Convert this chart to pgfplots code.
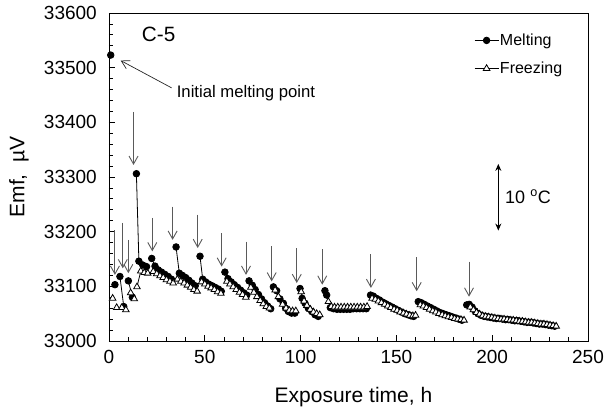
\documentclass[border=0pt]{standalone}
\usepackage{pgfplots}
\pgfplotsset{compat=1.18}
\usepackage{fontspec}
\setmainfont{Liberation Sans}
\usetikzlibrary{arrows.meta}
\definecolor{arrgray}{HTML}{5A5A5A}
\begin{document}
\begin{tikzpicture}
\begin{axis}[
  scale only axis, width=479pt, height=328pt,
  xmin=0, xmax=250, ymin=33000, ymax=33600,
  xtick={0,50,...,250}, ytick={33000,33100,...,33600},
  scaled y ticks=false, scaled x ticks=false,
  minor x tick num=4, minor y tick num=4,
  xtick pos=bottom, ytick pos=left, tick align=inside,
  major tick length=6pt, minor tick length=3.5pt,
  every tick/.style={black, line width=0.8pt},
  axis line style={line width=0.9pt},
  /pgf/number format/assume math mode=true,
  /pgf/number format/set thousands separator={},
  /pgf/number format/fixed,
  tick label style={font=\fontsize{19}{21}\selectfont, inner sep=0pt},
  xticklabel style={anchor=north, yshift=-9pt},
  yticklabel style={anchor=east, xshift=-12pt},
  xlabel={Exposure time, h}, ylabel={Emf,\ \ µV},
  every axis x label/.style={at={(axis description cs:0.5,0)}, anchor=center, yshift=-56pt, xshift=5pt, font=\fontsize{21}{24}\selectfont},
  every axis y label/.style={at={(axis description cs:0,0.5)}, xshift=-90pt, anchor=center, rotate=90, font=\fontsize{21}{24}\selectfont},
  unbounded coords=jump,
  legend style={at={(axis description cs:0.762,0.94)}, anchor=north west, draw=none, fill=none,
    font=\fontsize{16}{18}\selectfont, row sep=13pt, inner sep=0pt,
    nodes={inner sep=1pt}},
  legend cell align=left,
  legend image code/.code={\draw[mark repeat=2,mark phase=2,#1] plot coordinates {(0pt,0pt) (12pt,0pt) (24pt,0pt)};},
]
\addplot[black, line width=0.8pt, mark=*, mark size=3.3pt, mark options={fill=black, solid}] table[x=x,y=y] {
x y
0.9 33523
nan nan
3.1 33103
nan nan
5.7 33118
7.7 33063
nan nan
10.1 33110
12.2 33080
nan nan
14.3 33306
15.6 33146
17.6 33139
19.6 33136
nan nan
22.3 33151
24.0 33137
25.7 33130
27.4 33126
29.1 33122
30.9 33118
32.6 33113
nan nan
35.0 33172
36.7 33124
38.3 33120
40.0 33116
41.7 33111
43.3 33106
45.0 33101
nan nan
47.5 33155
48.9 33113
50.5 33108
52.1 33104
53.8 33101
55.4 33098
57.1 33095
58.6 33091
nan nan
60.5 33126
62.1 33114
63.8 33108
65.4 33103
67.1 33098
68.7 33093
70.4 33088
71.9 33084
nan nan
73.1 33110
74.8 33102
76.3 33094
78.0 33085
79.6 33077
81.2 33070
82.8 33064
84.4 33059
nan nan
85.8 33099
87.5 33092
89.2 33077
91.0 33069
92.2 33060
93.6 33054
95.3 33051
97.0 33051
nan nan
99.7 33096
100.8 33078
102.3 33069
104.0 33060
105.8 33054
107.5 33048
109.2 33045
nan nan
112.7 33092
113.6 33084
115.5 33061
117.2 33059
119.0 33058
120.7 33058
122.4 33058
124.1 33058
125.8 33058
127.5 33059
129.2 33059
130.9 33059
132.6 33059
134.3 33059
nan nan
136.5 33084
138.0 33082
139.6 33078
141.2 33075
142.9 33071
144.5 33068
146.1 33065
147.8 33062
149.4 33059
151.0 33056
152.7 33053
154.3 33050
156.0 33048
157.6 33046
159.0 33045
nan nan
161.4 33072
163.0 33070
164.6 33067
166.2 33064
167.9 33061
169.5 33058
171.1 33055
172.8 33052
174.4 33050
176.0 33048
177.7 33046
179.3 33044
181.0 33042
182.6 33040
184.2 33038
nan nan
186.7 33066
188.0 33067
189.5 33062
191.0 33055
192.6 33050
194.2 33047
195.8 33045
197.4 33044
199.0 33043
200.6 33042
202.2 33041
203.8 33041
205.4 33040
207.0 33039
208.6 33039
210.2 33038
211.8 33037
213.4 33037
215.0 33036
216.6 33035
218.2 33034
219.8 33034
221.4 33033
223.0 33032
224.6 33031
226.2 33031
227.8 33030
229.4 33029
231.0 33028
232.6 33027
};
\addlegendentry{Melting}
\addplot[black, line width=0.8pt, mark=triangle*, mark size=3.8pt, mark options={fill=white, solid}] table[x=x,y=y] {
x y
1.9 33078
nan nan
4.0 33061
nan nan
6.7 33061
8.8 33057
nan nan
11.3 33088
13.2 33077
nan nan
14.6 33099
16.6 33128
18.4 33125
20.2 33124
nan nan
23.1 33127
24.9 33123
26.6 33119
28.3 33116
30.0 33112
31.8 33109
33.5 33106
nan nan
35.7 33113
37.5 33109
39.2 33106
40.9 33102
42.6 33098
44.3 33094
46.0 33091
nan nan
48.3 33108
50.0 33104
51.7 33100
53.3 33097
55.0 33094
56.7 33090
58.4 33087
nan nan
61.5 33109
63.1 33104
64.8 33099
66.4 33094
68.1 33089
69.7 33085
71.4 33080
nan nan
74.0 33098
75.6 33089
77.2 33081
78.9 33074
80.5 33068
82.1 33063
83.7 33060
nan nan
86.7 33093
88.4 33081
90.6 33067
92.4 33060
94.1 33056
95.8 33055
97.5 33055
nan nan
100.3 33090
101.8 33073
103.3 33065
105.0 33058
106.7 33053
108.4 33050
110.0 33048
nan nan
114.5 33072
116.0 33063
117.7 33062
119.4 33062
121.1 33062
122.8 33062
124.5 33062
126.2 33062
127.9 33062
129.6 33062
131.3 33062
133.0 33062
134.7 33063
nan nan
137.3 33078
139.0 33076
140.6 33073
142.2 33070
143.9 33067
145.5 33064
147.1 33061
148.8 33058
150.4 33056
152.0 33053
153.7 33051
155.3 33049
157.0 33047
158.6 33046
160.0 33047
nan nan
162.5 33066
164.1 33064
165.7 33061
167.3 33058
169.0 33055
170.6 33053
172.2 33050
173.9 33048
175.5 33046
177.1 33044
178.8 33043
180.4 33041
182.0 33040
183.7 33039
185.3 33038
nan nan
188.6 33062
190.2 33057
191.8 33052
193.4 33049
195.0 33046
196.6 33045
198.2 33044
199.8 33043
201.4 33042
203.0 33041
204.6 33040
206.2 33040
207.8 33039
209.4 33038
211.0 33038
212.6 33037
214.2 33036
215.8 33036
217.4 33035
219.0 33034
220.6 33034
222.2 33033
223.8 33032
225.4 33031
227.0 33031
228.6 33030
230.2 33029
231.8 33028
233.4 33027
};
\addlegendentry{Freezing}
% annotations
\begin{scope}[arrgray, line width=0.9pt, -{Straight Barb[length=8pt,width=9pt]}]
\draw (axis cs:3.1,33203) -- (axis cs:3.1,33121);
\draw (axis cs:7.2,33216) -- (axis cs:7.2,33133);
\draw (axis cs:10.1,33185) -- (axis cs:10.1,33124);
\draw (axis cs:12.8,33419) -- (axis cs:12.8,33322);
\draw (axis cs:22.6,33225) -- (axis cs:22.6,33164);
\draw (axis cs:33.2,33246) -- (axis cs:33.2,33185);
\draw (axis cs:46.3,33231) -- (axis cs:46.3,33170);
\draw (axis cs:58.8,33197) -- (axis cs:58.8,33136);
\draw (axis cs:71.5,33182) -- (axis cs:71.5,33121);
\draw (axis cs:84.9,33173) -- (axis cs:84.9,33109);
\draw (axis cs:98.0,33170) -- (axis cs:98.0,33106);
\draw (axis cs:111.3,33168) -- (axis cs:111.3,33103);
\draw (axis cs:136.7,33159) -- (axis cs:136.7,33097);
\draw (axis cs:160.6,33153) -- (axis cs:160.6,33091);
\draw (axis cs:187.9,33145) -- (axis cs:187.9,33081);
\end{scope}
\draw[black!85, line width=0.7pt, -{Straight Barb[length=8pt,width=9pt]}] (axis cs:32.7,33463) -- (axis cs:6.1,33513);
\node[anchor=west, inner sep=0pt, font=\fontsize{16.7}{18}\selectfont] at (axis cs:35.3,33453) {Initial melting point};
\node[anchor=west, inner sep=0pt, font=\fontsize{20.7}{22}\selectfont] at (axis cs:17.1,33560) {C-5};
\draw[black, line width=1.1pt, {Stealth[length=7pt,width=6pt]}-{Stealth[length=7pt,width=6pt]}] (axis cs:203.2,33324) -- (axis cs:203.2,33202);
\node[anchor=west, inner sep=0pt, font=\fontsize{18}{20}\selectfont] at (axis cs:206.7,33264) {10 \textsuperscript{o}C};
\end{axis}
\pgfresetboundingbox
\path ([shift={(-109pt,-67pt)}]current axis.south west) rectangle ([shift={(22pt,13pt)}]current axis.north east);
\end{tikzpicture}
\end{document}
